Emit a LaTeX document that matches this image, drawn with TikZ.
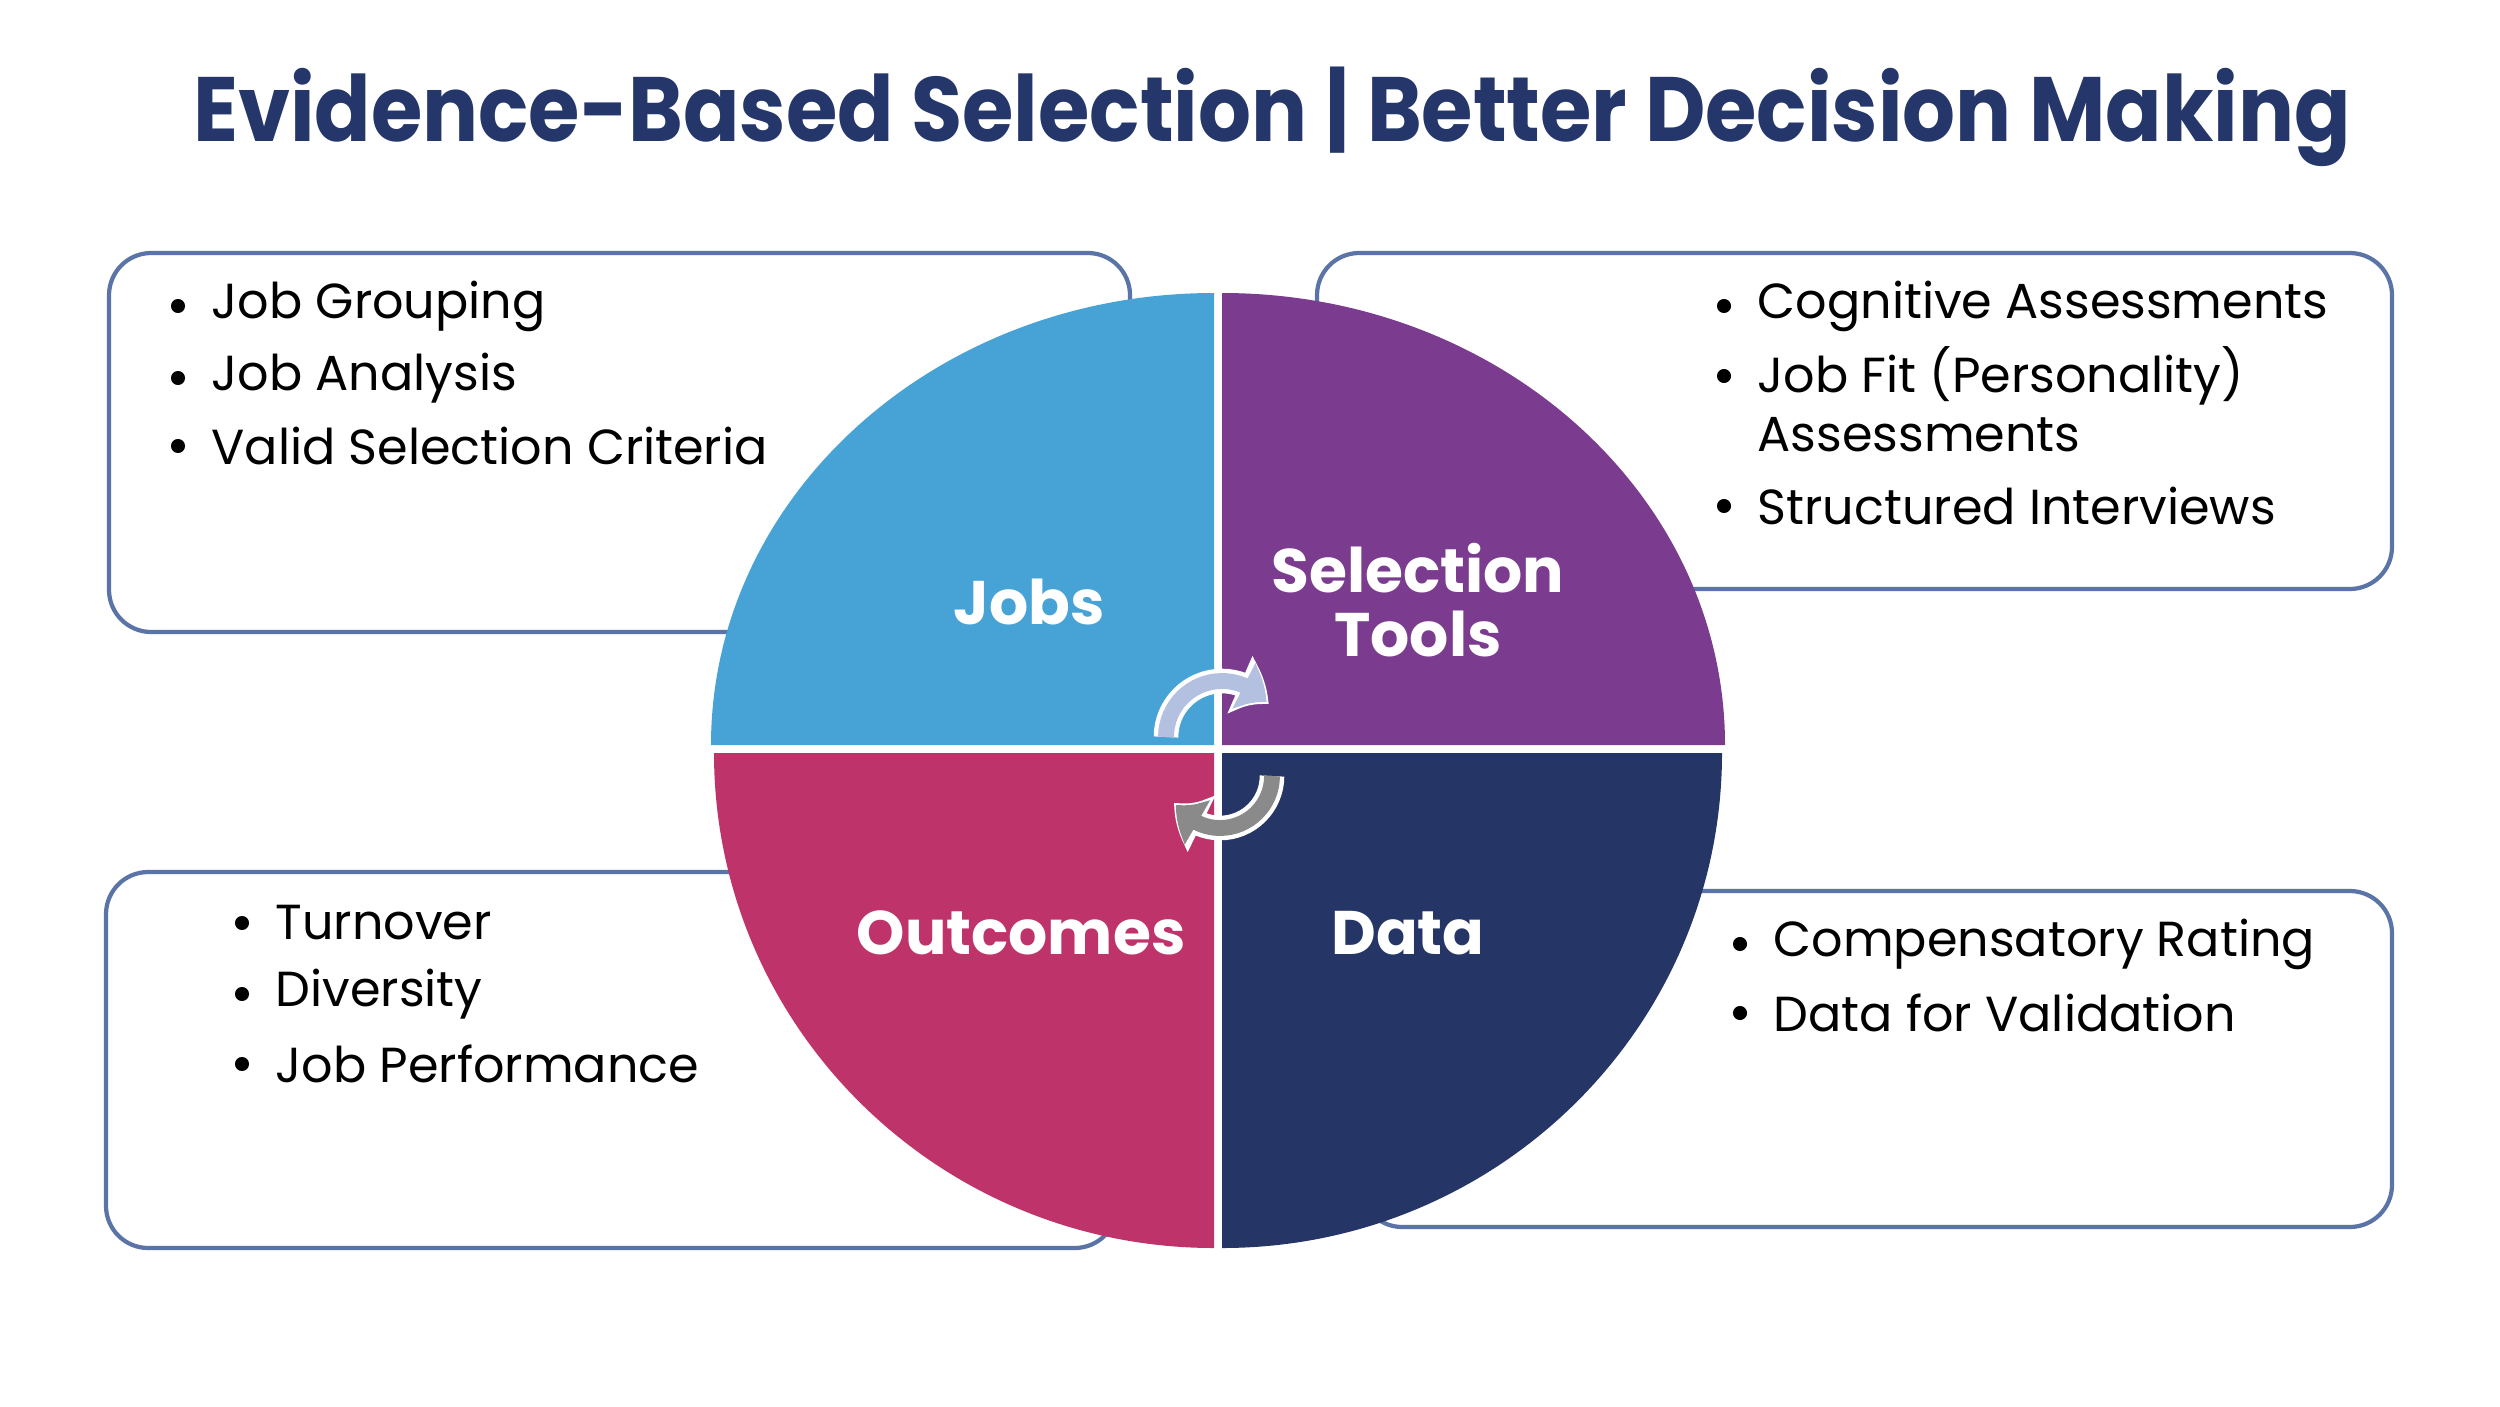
\documentclass[tikz,border=0pt]{standalone}
\usepackage{fontspec}
\setmainfont{Poppins}
\usetikzlibrary{arrows.meta,bending}
\definecolor{navy}{HTML}{24366A}
\definecolor{cjobs}{HTML}{47A3D6}
\definecolor{csel}{HTML}{7B3B8F}
\definecolor{cout}{HTML}{BF336B}
\definecolor{cdata}{HTML}{243566}
\definecolor{cbox}{HTML}{5A74A8}
\definecolor{carrA}{HTML}{B4C0E0}
\definecolor{carrB}{HTML}{8A8A8A}
\begin{document}
\begin{tikzpicture}[x=0.01cm,y=-0.01cm,
  box/.style={draw=cbox,line width=1.2pt,rounded corners=12pt,fill=white},
  bul/.style={anchor=west,font=\fontsize{14}{17}\selectfont,inner sep=0},
  dot/.style={circle,fill=black,inner sep=0,minimum size=4pt},
  quad/.style={font=\fontsize{17.5}{20}\selectfont\bfseries,text=white,align=center}]
\useasboundingbox (0,0) rectangle (2500,1406);
\fill[white] (0,0) rectangle (2500,1406);
\node[font=\fontsize{26}{30}\selectfont\bfseries,text=navy] (title) at (1272,117) {\scalebox{0.91}[1]{Evidence-Based Selection | Better Decision Making}};
% boxes
\draw[box] (109,253) rectangle (1130,632);
\draw[box] (1317,253) rectangle (2392,589);
\draw[box] (106,872) rectangle (1117,1248);
\draw[box] (1360,891) rectangle (2392,1227);
% quadrants
\fill[cjobs] (1214,745) -- (711,745) arc[start angle=180,end angle=270,x radius=503,y radius=452] -- cycle;
\fill[csel] (1222,745) -- (1222,293) arc[start angle=270,end angle=360,x radius=503,y radius=452] -- cycle;
\fill[cout] (1214,753) -- (714,753) arc[start angle=180,end angle=90,x radius=500,y radius=495] -- cycle;
\fill[cdata] (1222,753) -- (1222,1248) arc[start angle=90,end angle=0,x radius=500,y radius=495] -- cycle;
\node[quad] (jobs) at (1029,602) {Jobs};
\node[quad] (sel) at (1418,600) {Selection\\[-2pt]Tools};
\node[quad] (outc) at (1021,933) {Outcomes};
\node[quad] (data) at (1408,933) {Data};
% arrows
\draw[white,line width=7pt,-{Triangle[width=17pt,length=10pt,bend]}] (1166,737) arc[start angle=180,end angle=325,radius=56];
\draw[carrA,line width=4.5pt,-{Triangle[width=14pt,length=8pt,bend]}] (1166,737) arc[start angle=180,end angle=322,radius=56];
\draw[white,line width=7pt,-{Triangle[width=17pt,length=10pt,bend]}] (1272,776) arc[start angle=0,end angle=150,radius=52];
\draw[carrB,line width=4.5pt,-{Triangle[width=14pt,length=8pt,bend]}] (1272,776) arc[start angle=0,end angle=147,radius=52];
% bullets
\foreach \t/\y [count=\i] in {Job Grouping/306,Job Analysis/378,Valid Selection Criteria/446}{
  \node[dot] (tld\i) at (178,\y) {};
  \node[bul] (tl\i) at (211,\y) {\t};}
\foreach \t/\y [count=\i] in {Cognitive Assessments/306,Job Fit (Personality)/376,Structured Interviews/506}{
  \node[dot] (trd\i) at (1724,\y) {};
  \node[bul] (tr\i) at (1757,\y) {\t};}
\node[bul] (tr4) at (1757,435) {Assessments};
\foreach \t/\y [count=\i] in {Turnover/923,Diversity/994,Job Performance/1064}{
  \node[dot] (bld\i) at (242,\y) {};
  \node[bul] (bl\i) at (275,\y) {\t};}
\foreach \t/\y [count=\i] in {Compensatory Rating/944,Data for Validation/1013}{
  \node[dot] (brd\i) at (1740,\y) {};
  \node[bul] (br\i) at (1773,\y) {\t};}
\end{tikzpicture}
\end{document}
